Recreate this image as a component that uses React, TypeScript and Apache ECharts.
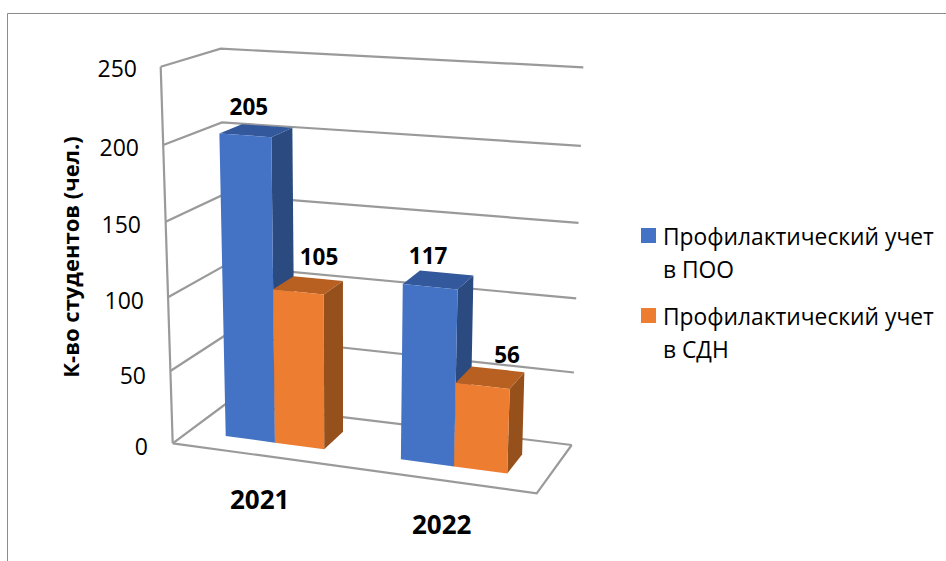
import React, { useEffect, useRef } from "react";
import * as echarts from "echarts";

const categories = ["2021", "2022"];
const seriesPoo = [205, 117];
const seriesSdn = [105, 56];
const namePoo = "Профилактический учет в ПОО";
const nameSdn = "Профилактический учет в СДН";
const axisTitle = "К-во студентов (чел.)";
const yTicks = [0, 50, 100, 150, 200, 250];

const FONT = "'Open Sans', 'Noto Sans', sans-serif";
const GRID = { left: 173, width: 399, top: 68, height: 378 };

// Corners of the 3D box on the page: [x, y]
const FLB = [172.7, 443.3], FRB = [536.7, 493.3], BLB = [227, 403], BRB = [571.7, 445];
const FLT = [160.7, 66.7], FRT = [552, 91], BLT = [220.7, 48.7], BRT = [583.3, 67.3];

const mix = (a: number[], b: number[], k: number) => [a[0] + (b[0] - a[0]) * k, a[1] + (b[1] - a[1]) * k];
const project = (u: number, t: number, w: number) => {
  const h = t * (0.95 + 0.05 * t);
  const bottom = mix(mix(FLB, FRB, u), mix(BLB, BRB, u), w);
  const top = mix(mix(FLT, FRT, u), mix(BLT, BRT, u), w);
  return mix(bottom, top, h);
};

const fracs = (api: any, cat: number, val: number) => {
  const p = api.coord([cat, val]);
  return { u: (p[0] - GRID.left) / GRID.width, t: (GRID.top + GRID.height - p[1]) / GRID.height };
};

const LINE = { stroke: "#9a9a9a", lineWidth: 2.2, fill: "none" };

const renderWalls = (_: any, api: any) => {
  const { t } = fracs(api, 0, api.value(1));
  const children: any[] = [
    { type: "polyline", shape: { points: [project(0, t, 0), project(0, t, 1), project(1, t, 1)] }, style: LINE },
  ];
  if (api.value(1) === 0) {
    children.push({ type: "polyline", shape: { points: [project(0, 0, 0), project(1, 0, 0), project(1, 0, 1)] }, style: LINE });
    children.push({ type: "polyline", shape: { points: [project(0, 0, 0), project(0, 1, 0)] }, style: LINE });
  }
  return { type: "group", children };
};

const renderCategory = (_: any, api: any) => {
  const cat = api.value(0);
  const { u } = fracs(api, cat, 0);
  const p = project(u, 0, 0);
  return {
    type: "text",
    style: {
      text: categories[cat], x: p[0] - 4, y: p[1] + 43, fill: "#000",
      fontFamily: FONT, fontWeight: "bold", fontSize: 26, align: "center", verticalAlign: "middle",
    },
  };
};

const makeBars = (side: number, colors: string[], labelShift: number[][]) => (_: any, api: any) => {
  const cat = api.value(0);
  const val = api.value(1);
  const { u, t } = fracs(api, cat, val);
  const c = u - 0.01;
  const half = 0.132 + 0.022 * u;
  const u0 = side < 0 ? c - half : c;
  const u1 = side < 0 ? c : c + half;
  const wF = 0.3, wB = 0.7;
  const fl = project(u0, t, wF), fr = project(u1, t, wF), bl = project(u0, t, wB), br = project(u1, t, wB);
  const fl0 = project(u0, 0, wF), fr0 = project(u1, 0, wF), br0 = project(u1, 0, wB);
  const poly = (points: number[][], fill: string) => ({ type: "polygon", shape: { points }, style: { fill } });
  return {
    type: "group",
    children: [
      poly([fr, br, br0, fr0], colors[2]),
      poly([fl, bl, br, fr], colors[1]),
      poly([fl, fr, fr0, fl0], colors[0]),
      {
        type: "text",
        style: {
          text: String(val), x: (fl[0] + br[0]) / 2 + labelShift[cat][0], y: (bl[1] + br[1]) / 2 + labelShift[cat][1], fill: "#000",
          fontFamily: FONT, fontWeight: "bold", fontSize: 22.5, align: "center", verticalAlign: "middle",
        },
      },
    ],
  };
};

const LEGEND_ICON = "path://M0 0h.01v.01h-.01zM17 66h.01v.01h-.01zM0 8.5h15v15H0z";
// The labels follow the tilted left edge of the box: [pixels in from the right, pixels down]
const labelNudge: Record<number, number[]> = { 0: [0, 0], 50: [2, 4.5], 100: [4, 5], 150: [7, 5], 200: [9, 3], 250: [11, 0] };

export default function App() {
  const ref = useRef<HTMLDivElement>(null);
  useEffect(() => {
    const chart = echarts.init(ref.current!, null, { renderer: "svg" });
    const rich: any = {};
    yTicks.forEach((v) => {
      rich["t" + v] = { fontFamily: FONT, fontSize: 23, color: "#000", padding: [labelNudge[v][1] * 2, labelNudge[v][0], 0, 0] };
    });
    chart.setOption({
      animation: false,
      backgroundColor: "#fff",
      grid: { left: GRID.left, top: GRID.top, width: GRID.width, height: GRID.height, containLabel: false },
      graphic: [
        { type: "line", shape: { x1: 7.5, y1: 13.5, x2: 946, y2: 13.5 }, style: { stroke: "#8c8c8c", lineWidth: 1 } },
        { type: "line", shape: { x1: 7.5, y1: 13.5, x2: 7.5, y2: 561 }, style: { stroke: "#8c8c8c", lineWidth: 1 } },
      ],
      legend: {
        data: [namePoo, nameSdn],
        orient: "vertical",
        left: 641,
        top: 219.5,
        padding: 0,
        itemWidth: 17,
        itemHeight: 66,
        itemGap: 14,
        icon: LEGEND_ICON,
        selectedMode: false,
        formatter: (n: string) => n.replace(" в ", "\nв "),
        textStyle: { fontFamily: FONT, fontSize: 22.8, lineHeight: 33, color: "#000" },
      },
      xAxis: {
        type: "category",
        data: categories,
        axisLine: { show: false },
        axisTick: { show: false },
        axisLabel: { show: false },
      },
      yAxis: {
        type: "value",
        min: 0,
        max: 250,
        interval: 50,
        axisLine: { show: false },
        axisTick: { show: false },
        splitLine: { show: false },
        name: axisTitle,
        nameLocation: "middle",
        nameRotate: 90,
        nameGap: 92,
        nameTextStyle: { fontFamily: FONT, fontWeight: "bold", fontSize: 22, color: "#000" },
        axisLabel: {
          margin: 25,
          formatter: (v: number) => `{t${v}|${v}}`,
          rich,
        },
      },
      series: [
        { type: "custom", name: "walls", data: yTicks.map((v) => [0, v]), encode: { x: 0, y: 1 }, renderItem: renderWalls, silent: true, z: 1 },
        { type: "custom", name: "categories", data: categories.map((_, i) => [i, 0]), encode: { x: 0, y: 1 }, renderItem: renderCategory, silent: true, z: 1 },
        {
          type: "custom", name: namePoo, data: seriesPoo.map((v, i) => [i, v]), encode: { x: 0, y: 1 },
          itemStyle: { color: "#4472C4" }, renderItem: makeBars(-1, ["#4472C4", "#33589C", "#2A4A80"], [[-7, -19], [-10, -17]]), z: 2,
        },
        {
          type: "custom", name: nameSdn, data: seriesSdn.map((v, i) => [i, v]), encode: { x: 0, y: 1 },
          itemStyle: { color: "#ED7D31" }, renderItem: makeBars(1, ["#ED7D31", "#B85F22", "#95501B"], [[11, -22], [17, -15]]), z: 3,
        },
      ],
    });
    return () => chart.dispose();
  }, []);
  return <div ref={ref} style={{ position: "fixed", left: 0, top: 0, width: 946, height: 561 }} />;
}
